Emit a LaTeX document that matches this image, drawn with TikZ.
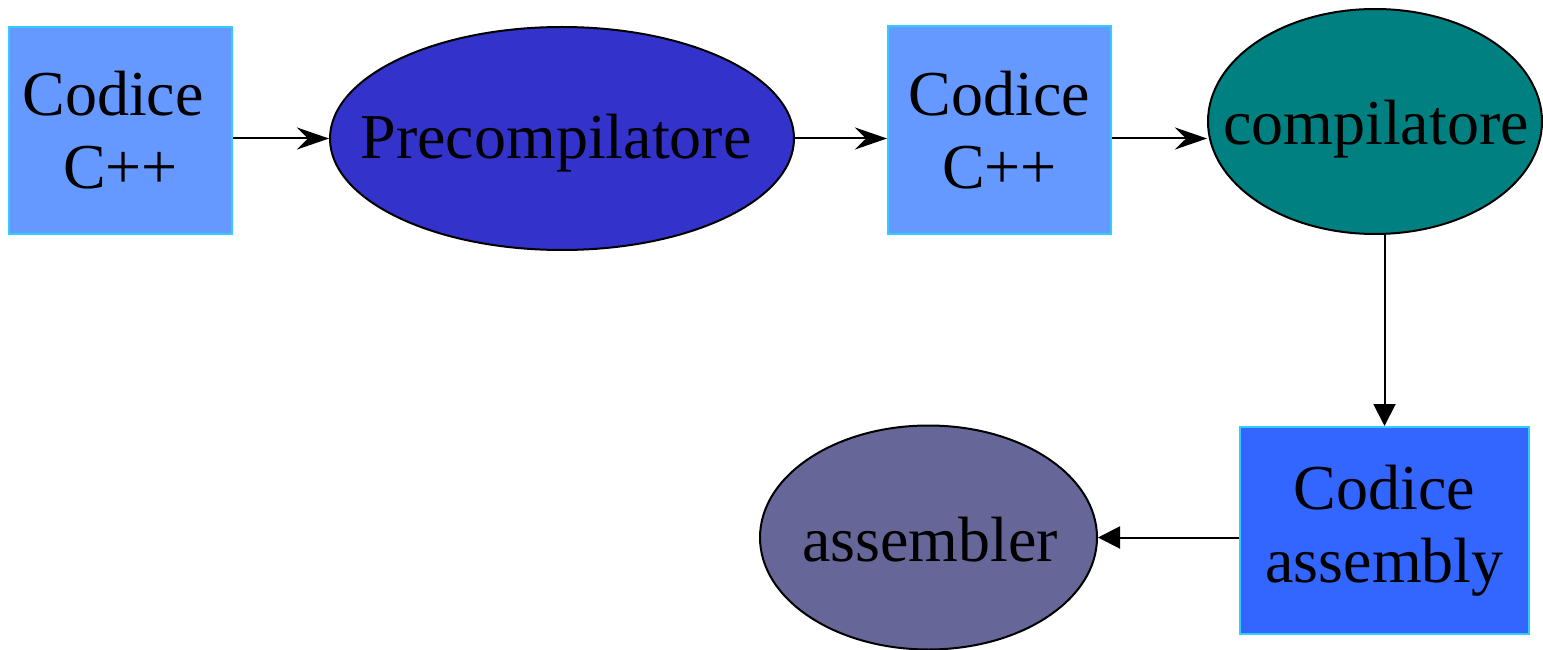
\documentclass[tikz,border=0pt]{standalone}
\usepackage{fontspec}
\setmainfont{Liberation Serif}
\usetikzlibrary{shapes.geometric,arrows.meta}
\definecolor{boxlight}{HTML}{6699FF}
\definecolor{boxdark}{HTML}{3366FF}
\definecolor{boxedge}{HTML}{33CCFF}
\definecolor{prefill}{HTML}{3333CC}
\definecolor{compfill}{HTML}{008080}
\definecolor{asmfill}{HTML}{666699}
\tikzset{
  bigtext/.style={font=\fontsize{64}{73}\selectfont, align=center, text=black},
  codebox/.style={bigtext, rectangle, draw=boxedge, line width=2pt, inner sep=0pt, minimum width=223pt, minimum height=207pt},
  procell/.style n args={3}{ellipse, draw=black, line width=2pt, inner sep=0pt,
    label={[bigtext, inner sep=0pt, xshift=#2, yshift=#3]center:#1}},
  flowa/.style={line width=2pt, -{Stealth[length=32pt,width=22pt,inset=11pt]}},
  flowb/.style={line width=2pt, -{Triangle[length=22pt,width=22pt]}}
}
\begin{document}
\begin{tikzpicture}[x=1pt,y=-1pt]
\useasboundingbox (0,0) rectangle (1543,650);
\node[codebox, fill=boxlight] (c1) at (120.5,130.5) {Codice\hspace*{15pt}\\C++};
\node[procell={Precompilatore}{-6pt}{-4.5pt}, fill=prefill, minimum width=464pt, minimum height=223pt] (pre) at (562,138.5) {};
\node[codebox, fill=boxlight] (c2) at (999.5,130) {Codice\\C++};
\node[procell={compilatore}{1pt}{-8pt}, fill=compfill, minimum width=334pt, minimum height=225pt] (comp) at (1375,121.5) {};
\node[codebox, fill=boxdark, minimum width=289pt] (c3) at (1384.5,530.5) {Codice\\assembly};
\node[procell={assembler}{1.5pt}{-2.5pt}, fill=asmfill, minimum width=337pt, minimum height=224pt] (asm) at (928.5,537.5) {};
\draw[flowa] (pre.west -| c1.east) -- (pre.west);
\draw[flowa] (pre.east) -- (pre.east -| c2.west);
\draw[flowa] (pre.east -| c2.east) -- (pre.east -| comp.west);
\draw[flowb] (c3.north |- comp.south) -- (c3.north);
\draw[flowb] (asm.east -| c3.west) -- (asm.east);
\end{tikzpicture}
\end{document}
